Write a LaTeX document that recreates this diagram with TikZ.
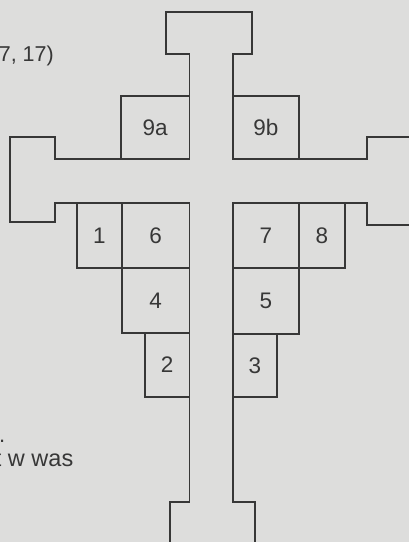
\documentclass[tikz,border=0pt]{standalone}
\usepackage{fontspec}
\setmainfont{Liberation Sans}
\definecolor{bg}{RGB}{221,221,220}
\definecolor{ink}{RGB}{55,55,55}
\begin{document}
\begin{tikzpicture}[x=1pt,y=-1pt,
  outline/.style={draw=ink,line width=1.4pt,line join=miter},
  cell/.style={draw=ink,line width=1.4pt,inner sep=0pt,outer sep=0pt,anchor=north west,
    font=\fontsize{22.5}{22.5}\selectfont,text=ink},
  note/.style={inner sep=0pt,text=ink}]
\fill[bg] (0,0) rectangle (409,542);
\useasboundingbox (0,0) rectangle (409,542);
% outline of the cross
\coordinate (l0) at (170,545);
\coordinate (r0) at (255,545);
\coordinate (ra) at (412,137);
\coordinate (rb) at (412,225);
\draw[outline] (l0) -- (170,502) -- (189.5,502) -- (189.5,203) -- (55,203) -- (55,222) -- (10,222)
  -- (10,137) -- (55,137) -- (55,159) -- (189.5,159) -- (189.5,54) -- (166,54) -- (166,12)
  -- (252,12) -- (252,54) -- (233,54) -- (233,159) -- (367,159) -- (367,137) -- (ra);
\draw[outline] (rb) -- (367,225) -- (367,203) -- (233,203) -- (233,502) -- (255,502) -- (r0);
% cells
\node[cell,minimum width=68.5pt,minimum height=63pt] (c9a) at (121,96) {9a};
\node[cell,minimum width=66pt,minimum height=63pt] (c9b) at (233,96) {9b};
\node[cell,minimum width=45pt,minimum height=65pt] (c1) at (77,203) {1};
\node[cell,minimum width=67.5pt,minimum height=65pt] (c6) at (122,203) {6};
\node[cell,minimum width=67.5pt,minimum height=65pt] (c4) at (122,268) {4};
\node[cell,minimum width=44.5pt,minimum height=64pt] (c2) at (145,333) {2};
\node[cell,minimum width=66pt,minimum height=65pt] (c7) at (233,203) {7};
\node[cell,minimum width=46pt,minimum height=65pt] (c8) at (299,203) {8};
\node[cell,minimum width=66pt,minimum height=66pt] (c5) at (233,268) {5};
\node[cell,minimum width=44pt,minimum height=63pt] (c3) at (233,334) {3};
% clipped marginal text
\node[note,anchor=base east,font=\fontsize{21.5}{21.5}\selectfont] (t1) at (54,61) {7, 17)};
\node[note,anchor=base west,font=\fontsize{22}{22}\selectfont] (t2) at (-1,442) {.};
\node[note,anchor=base east,font=\fontsize{23.5}{23.5}\selectfont] (t3) at (73.5,466) {t w was};
\end{tikzpicture}
\end{document}
